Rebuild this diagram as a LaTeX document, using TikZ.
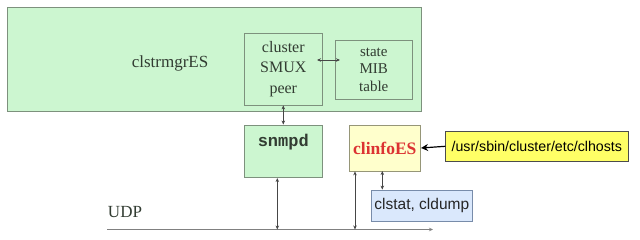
\documentclass[tikz,border=0pt]{standalone}
\usepackage{fontspec}
\setmainfont{Liberation Serif}
\newfontfamily\arialf{Liberation Sans}
\newfontfamily\courf{Liberation Mono}
\usetikzlibrary{arrows.meta}
\definecolor{lgreen}{RGB}{204,246,208}
\definecolor{gborder}{RGB}{125,145,125}
\definecolor{lyellow}{RGB}{255,255,204}
\definecolor{yborder}{RGB}{150,150,120}
\definecolor{yel}{RGB}{255,255,102}
\definecolor{lblue}{RGB}{218,232,252}
\definecolor{bborder}{RGB}{120,140,170}
\definecolor{redtxt}{RGB}{220,50,50}
\definecolor{linec}{RGB}{70,70,70}
\definecolor{txtc}{RGB}{50,60,50}
\tikzset{
  gbox/.style={draw=gborder, fill=lgreen, line width=0.8pt, inner sep=0pt},
  innerbox/.style={draw=gborder, line width=0.8pt, inner sep=0pt, align=center, text=txtc},
  conn/.style={draw=linec, line width=0.7pt, {Stealth[length=4pt,width=3.5pt]}-{Stealth[length=4pt,width=3.5pt]}},
  bigarrow/.style={draw=black, line width=1.2pt, -{Stealth[length=7pt,width=7pt]}},
}
\begin{document}
\begin{tikzpicture}[x=1pt,y=-1pt]
\useasboundingbox (0,0) rectangle (640,240);
\fill[white] (0,0) rectangle (640,240);
% main process box
\node[gbox, minimum width=414pt, minimum height=104pt] (big) at (214,59) {};
\node[font=\fontsize{17}{20}\selectfont, text=txtc] (bigl) at (170,63) {clstrmgrES};
\node[innerbox, minimum width=78.7pt, minimum height=72pt,
      font=\fontsize{16}{20.5}\selectfont] (smux) at (283.3,69) {cluster\\SMUX\\peer};
\node[innerbox, minimum width=76.3pt, minimum height=59pt,
      font=\fontsize{15}{17.5}\selectfont] (mib) at (373.8,69.5) {state\\MIB\\table};
% snmpd
\node[gbox, minimum width=78.7pt, minimum height=52.7pt] (snmpd) at (283.3,151.3) {};
\node[font=\courf\bfseries\fontsize{17}{20}\selectfont, text=txtc] (snmpdl) at (283.3,141.7) {snmpd};
% clinfoES
\node[draw=yborder, fill=lyellow, line width=0.8pt, minimum width=71.7pt, minimum height=46pt,
      font=\bfseries\fontsize{17.5}{20}\selectfont, text=redtxt] (clinfo) at (384.8,148) {clinfoES};
% clhosts
\node[draw=black!70, fill=yel, line width=0.8pt, minimum width=182.3pt, minimum height=30.7pt,
      font=\arialf\fontsize{14.2}{17}\selectfont] (clhosts) at (536.8,146.3) {/usr/sbin/cluster/etc/clhosts};
% clstat
\node[draw=bborder, fill=lblue, line width=0.8pt, minimum width=101.7pt, minimum height=31pt,
      font=\arialf\fontsize{15.5}{18}\selectfont, text=black!85] (clstat) at (421.8,205.5) {clstat, cldump};
% UDP
\node[font=\fontsize{17}{20}\selectfont, text=txtc] (udpl) at (125,212) {UDP};
\coordinate (udpa) at (107,229.5);
\coordinate (udpb) at (433,229.5);
\draw[draw=black!50, line width=0.8pt, -{Stealth[length=4pt,width=3.5pt]}] (udpa) -- (udpb);
% connectors
\coordinate (a1) at (317,60);
\coordinate (a2) at (340,60);
\draw[conn] (a1) -- (a2);
\draw[conn] (smux.south) -- (snmpd.north);
\coordinate (u1) at (277.3,229.5);
\draw[conn] (snmpd.south -| u1) -- (u1);
\coordinate (u2) at (355,229.5);
\draw[conn] (clinfo.south -| u2) -- (u2);
\coordinate (c1) at (382.3,171);
\draw[conn] (c1) -- (clstat.north -| c1);
\draw[bigarrow] (clhosts.west) -- (clinfo.east);
\end{tikzpicture}
\end{document}
